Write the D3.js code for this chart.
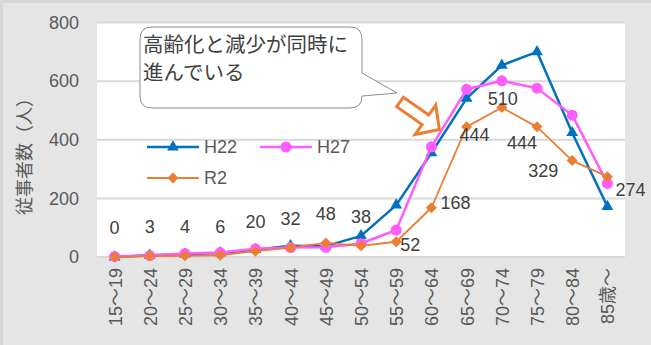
<!DOCTYPE html>
<html lang="ja">
<head>
<meta charset="utf-8" />
<title>従事者数</title>
<script src="https://d3js.org/d3.v7.min.js"></script>
<style>
  body { margin: 0; background: #e6e6e6; }
  svg text { font-family: "Liberation Sans", "Noto Sans CJK JP", sans-serif; }
</style>
</head>
<body>
<svg width="651" height="345" xmlns="http://www.w3.org/2000/svg" id="chart"></svg>
<script>
// data
const ages = ["15～19","20～24","25～29","30～34","35～39","40～44","45～49",
              "50～54","55～59","60～64","65～69","70～74","75～79","80～84","85歳～"];
const h22 = [0, 6, 10, 14, 25, 38, 37, 72, 177, 355, 541, 654, 700, 424, 172];
const h27 = [2, 5, 12, 15, 28, 32, 33, 46, 92, 376, 572, 601, 576, 484, 251];
const r2  = [0, 3, 4, 6, 20, 32, 48, 38, 52, 168, 444, 510, 444, 329, 274];
const yTicks = [0, 200, 400, 600, 800];
const seriesNames = ["H22", "H27", "R2"];

// label offsets for R2 values (text centre relative to point)
const labelOffsets = [
  [0,-29],[0,-29],[0,-29],[0,-29],[0,-29],[0,-29],[0,-29],[0,-29],
  [14,3],[24,-5],[8,8],[1,-9],[-15,16],[-29,10],[23,13]
];

const svg = d3.select("#chart");
const plot = {left: 97, right: 625, top: 22.5, bottom: 257};

// background + frame edge
svg.append("rect").attr("x",0).attr("y",0).attr("width",651).attr("height",345).attr("fill","#e5e5e5");
svg.append("rect").attr("x",0).attr("y",0).attr("width",651).attr("height",3).attr("fill","#d6d6d6");
svg.append("rect").attr("x",0).attr("y",0).attr("width",3).attr("height",345).attr("fill","#d6d6d6");

const x = d3.scalePoint().domain(ages).range([plot.left, plot.right]).padding(0.5);
const y = d3.scaleLinear().domain([0, 800]).range([plot.bottom, plot.top]);

svg.append("rect")
  .attr("x", plot.left).attr("y", plot.top)
  .attr("width", plot.right - plot.left).attr("height", plot.bottom - plot.top)
  .attr("fill", "#ffffff");

// gridlines
svg.append("g").selectAll("line").data(yTicks).enter().append("line")
  .attr("x1", plot.left).attr("x2", plot.right)
  .attr("y1", d => y(d)).attr("y2", d => y(d))
  .attr("stroke", "#d9d9d9").attr("stroke-width", 2);

// y axis
const yAxis = svg.append("g")
  .attr("transform", "translate(" + (plot.left - 18) + ",0)")
  .call(d3.axisLeft(y).tickValues(yTicks).tickSize(0).tickPadding(0));
yAxis.select(".domain").remove();
yAxis.selectAll("text")
  .attr("font-size", 18).attr("fill", "#595959")
  .style("font-family", "'Liberation Sans', sans-serif");

// x axis
const xAxis = svg.append("g")
  .attr("transform", "translate(0," + plot.bottom + ")")
  .call(d3.axisBottom(x).tickSize(0).tickPadding(0));
xAxis.select(".domain").remove();
xAxis.selectAll("text")
  .attr("font-size", 18).attr("fill", "#595959")
  .attr("text-anchor", "end")
  .attr("transform", "rotate(-90)")
  .attr("x", -11).attr("y", 0).attr("dy", "0.36em");

// y axis title
svg.append("text")
  .attr("transform", "translate(25,152) rotate(-90)")
  .attr("text-anchor", "middle").attr("dy", "0.35em")
  .attr("font-size", 18).attr("fill", "#595959")
  .text("従事者数（人）");

// lines
const line = d3.line().x((d, i) => x(ages[i])).y(d => y(d));
const series = [
  {name: "H22", values: h22, color: "#0070c0", width: 2.5, marker: "tri"},
  {name: "H27", values: h27, color: "#ff5cff", width: 2.5, marker: "circle"},
  {name: "R2",  values: r2,  color: "#ed7d31", width: 1.8, marker: "diamond"}
];

function drawMarker(g, type, color) {
  if (type === "tri") {
    g.append("path").attr("d", d3.symbol().type(d3.symbolTriangle).size(60)())
      .attr("fill", color);
  } else if (type === "circle") {
    g.append("circle").attr("r", 5.5).attr("fill", color);
  } else {
    g.append("path").attr("d", "M0,-5.5L5.5,0L0,5.5L-5.5,0Z")
      .attr("fill", color);
  }
}

series.forEach(s => {
  svg.append("path").datum(s.values)
    .attr("d", line).attr("fill", "none")
    .attr("stroke", s.color).attr("stroke-width", s.width)
    .attr("stroke-linejoin", "round");
  s.values.forEach((v, i) => {
    const g = svg.append("g").attr("transform", "translate(" + x(ages[i]) + "," + y(v) + ")");
    drawMarker(g, s.marker, s.color);
  });
});

// data labels for R2
svg.append("g").selectAll("text").data(r2).enter().append("text")
  .attr("x", (d, i) => x(ages[i]) + labelOffsets[i][0])
  .attr("y", (d, i) => y(d) + labelOffsets[i][1])
  .attr("dy", "0.35em").attr("text-anchor", "middle")
  .attr("font-size", 18).attr("fill", "#404040")
  .text(d => d);

// legend
const legendPos = [[147, 147], [260, 147], [147, 178]];
series.forEach((s, i) => {
  const [lx, ly] = legendPos[i];
  const g = svg.append("g").attr("transform", "translate(" + lx + "," + ly + ")");
  g.append("line").attr("x1", 0).attr("x2", 52).attr("y1", 0).attr("y2", 0)
    .attr("stroke", s.color).attr("stroke-width", s.width);
  const m = g.append("g").attr("transform", "translate(26,0)");
  drawMarker(m, s.marker, s.color);
  g.append("text").attr("x", 57).attr("dy", "0.36em")
    .attr("font-size", 18).attr("fill", "#595959").text(seriesNames[i]);
});

// callout
const cx0 = 140, cy0 = 27, cx1 = 362, cy1 = 108, r = 12;
const callout = d3.path();
callout.moveTo(cx0 + r, cy0);
callout.lineTo(cx1 - r, cy0);
callout.quadraticCurveTo(cx1, cy0, cx1, cy0 + r);
callout.lineTo(cx1, 73);
callout.lineTo(397, 93);
callout.lineTo(cx1, 96);
callout.lineTo(cx1, cy1 - r);
callout.quadraticCurveTo(cx1, cy1, cx1 - r, cy1);
callout.lineTo(cx0 + r, cy1);
callout.quadraticCurveTo(cx0, cy1, cx0, cy1 - r);
callout.lineTo(cx0, cy0 + r);
callout.quadraticCurveTo(cx0, cy0, cx0 + r, cy0);
callout.closePath();
svg.append("path").attr("d", callout.toString())
  .attr("fill", "#ffffff").attr("stroke", "#8c8c8c").attr("stroke-width", 1);

const calloutText = svg.append("text")
  .attr("font-size", 20.5).attr("fill", "#404040")
  .style("font-family", "'Noto Sans CJK JP', sans-serif");
calloutText.append("tspan").attr("x", 143).attr("y", 52).text("高齢化と減少が同時に");
calloutText.append("tspan").attr("x", 143).attr("y", 80).text("進んでいる");

// block arrow
const arrowPts = [[0,-5.8],[31,-5.8],[31,-18],[48,0],[31,18],[31,5.8],[0,5.8]];
svg.append("polygon")
  .attr("points", arrowPts.map(p => p.join(",")).join(" "))
  .attr("transform", "translate(400,102) rotate(35)")
  .attr("fill", "#ffffff").attr("stroke", "#ed7d31").attr("stroke-width", 3)
  .attr("stroke-linejoin", "miter");
</script>
</body>
</html>
